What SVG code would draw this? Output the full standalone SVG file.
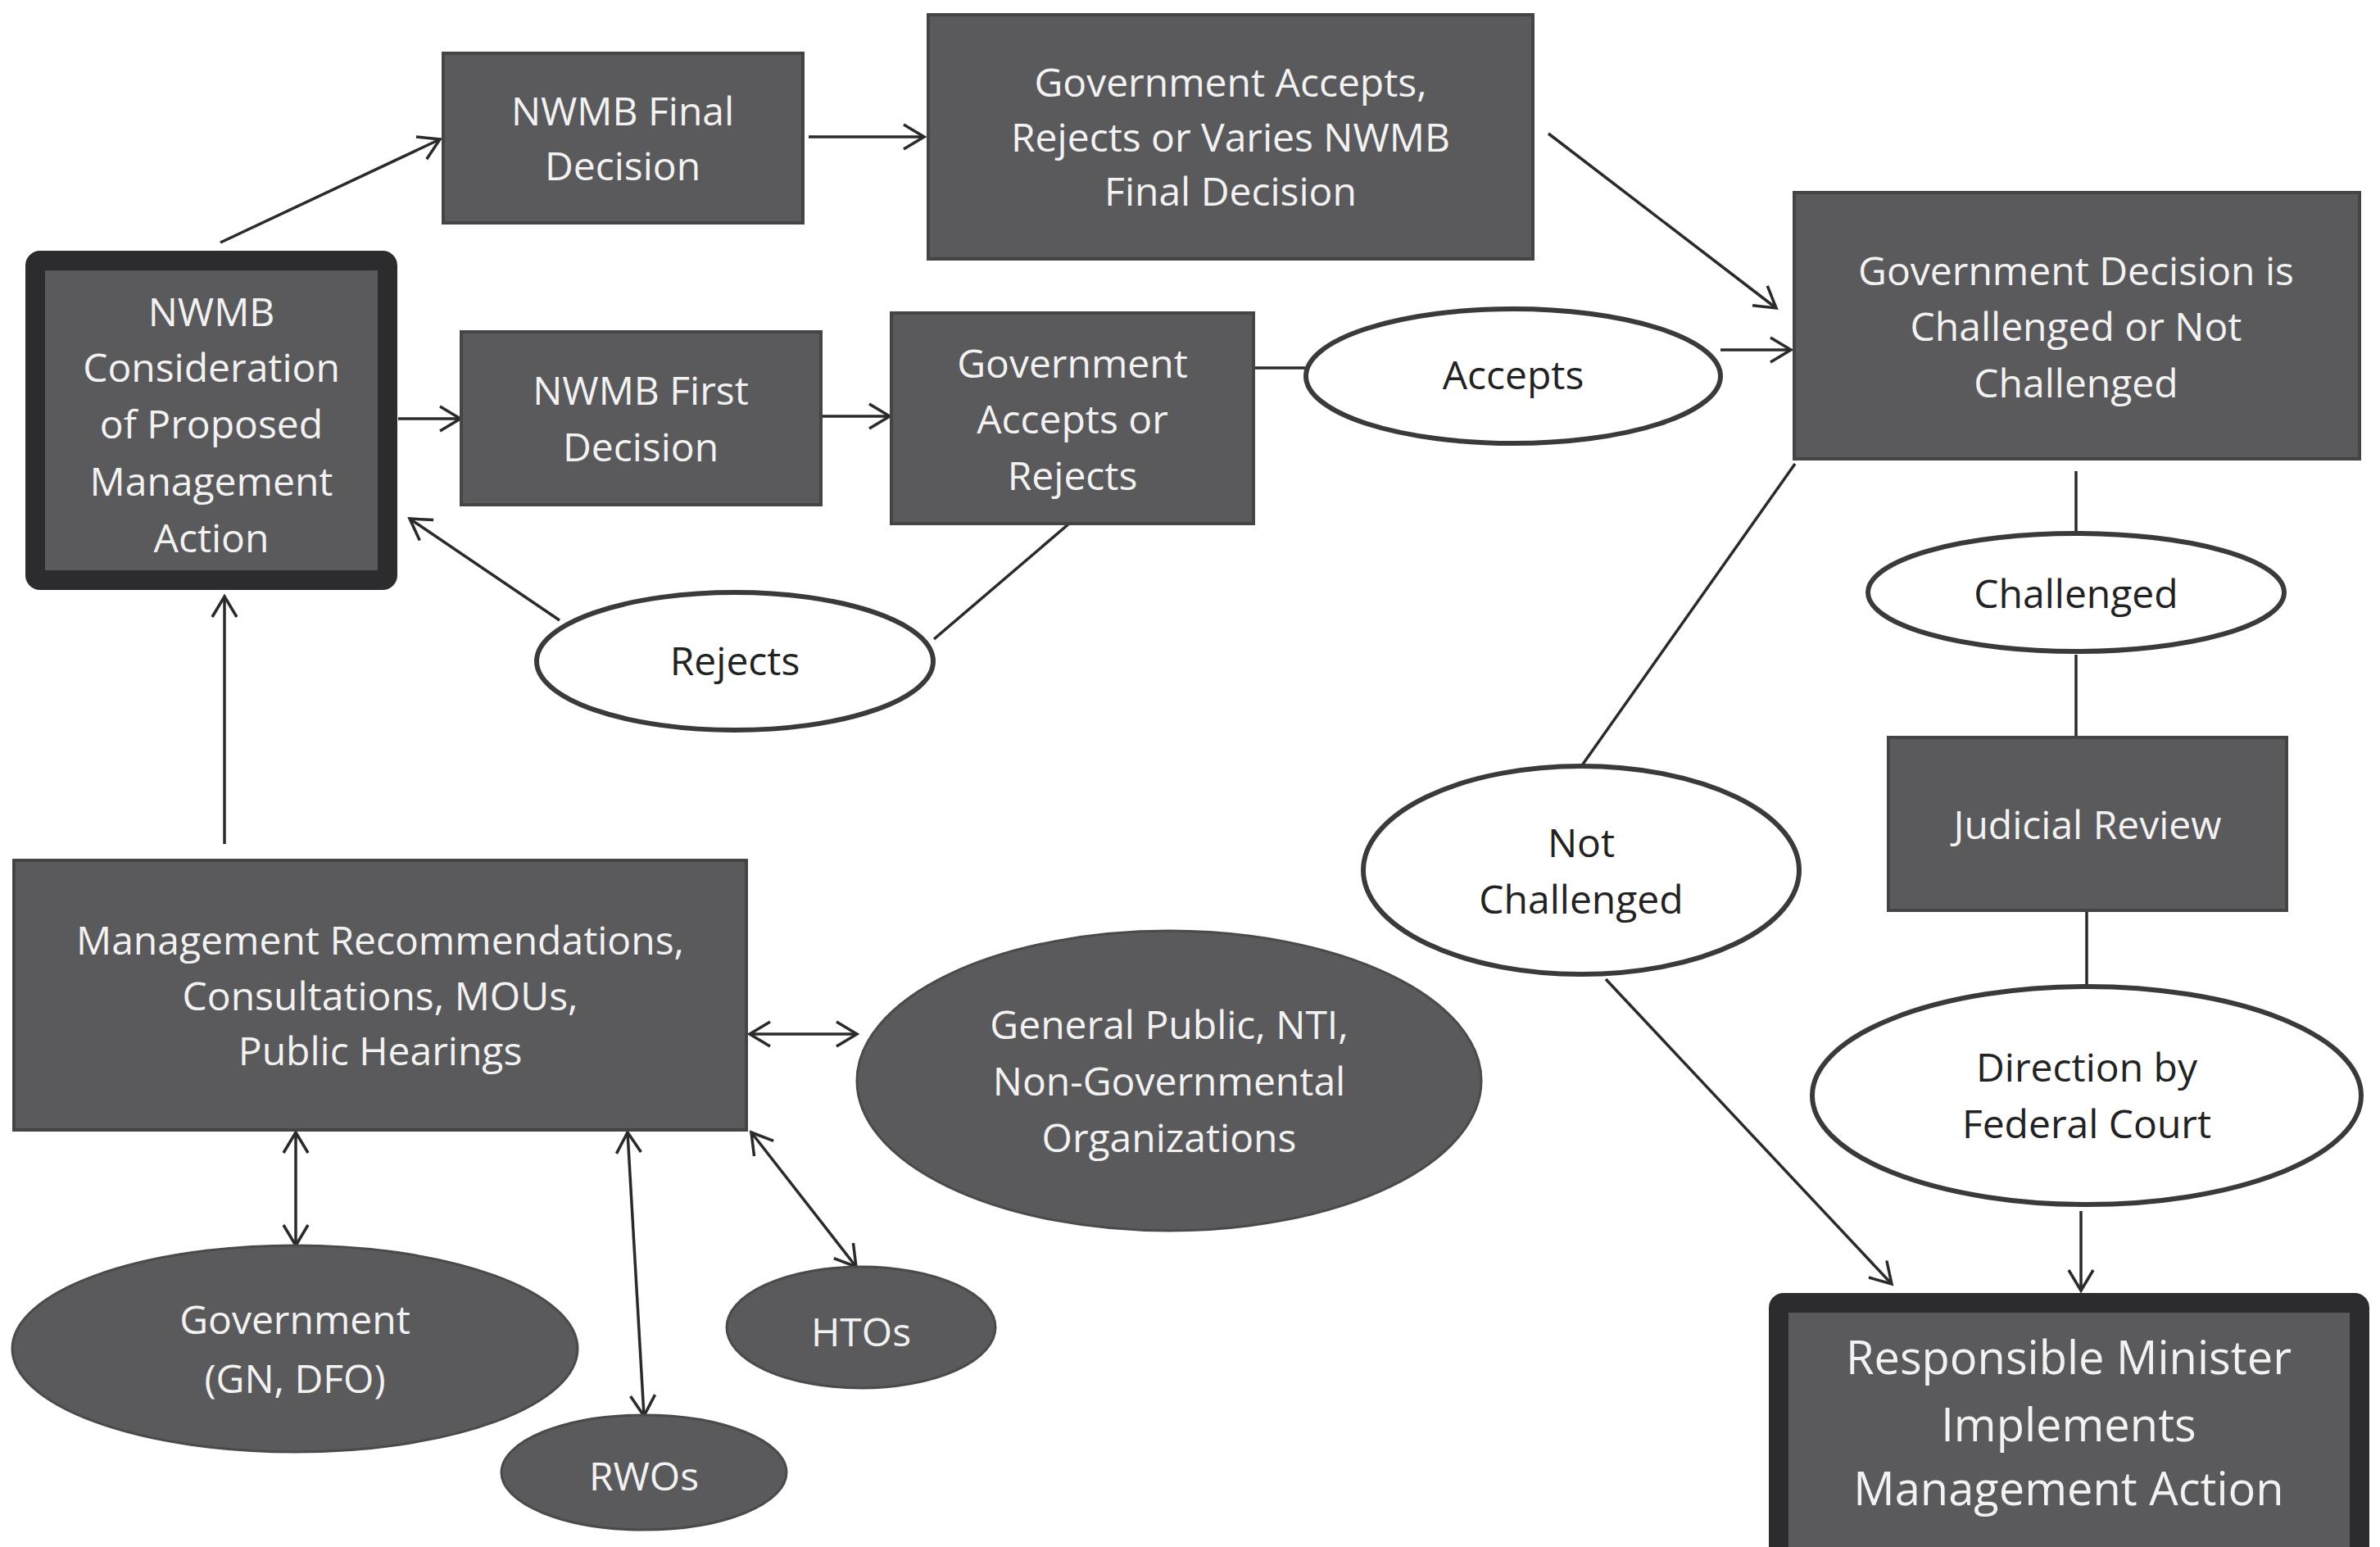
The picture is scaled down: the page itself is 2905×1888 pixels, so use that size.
<svg xmlns="http://www.w3.org/2000/svg" width="2905" height="1888" viewBox="0 0 2905 1888">
<style>
.box{fill:#5a5a5c;stroke:#444446;stroke-width:4}
.thick{fill:#5a5a5c;stroke:#2c2c2e;stroke-width:24}
.dell{fill:#5a5a5c;stroke:#4a4a4c;stroke-width:3}
.well{fill:#ffffff;stroke:#3a3a3a;stroke-width:6}
.lt{font-family:"Open Sans","Liberation Sans",sans-serif;font-size:48px;fill:#f2f2f2;text-anchor:middle}
.dt{font-family:"Open Sans","Liberation Sans",sans-serif;font-size:48px;fill:#222222;text-anchor:middle}
.big{font-size:56px}
.conn line{stroke:#2a2a2a;stroke-width:3.5;fill:none}
</style>
<defs>
<marker id="arr" markerUnits="userSpaceOnUse" markerWidth="34" markerHeight="40" refX="28" refY="18" orient="auto-start-reverse">
<path d="M3,3 L28,18 L3,33" fill="none" stroke="#2a2a2a" stroke-width="3.5"/>
</marker>
</defs>
<rect width="2905" height="1888" fill="#ffffff"/>

<g id="connectors" class="conn">
<line x1="269" y1="296" x2="537" y2="170" marker-end="url(#arr)"/>
<line x1="987" y1="167" x2="1128" y2="167" marker-end="url(#arr)"/>
<line x1="1890" y1="163" x2="2168" y2="376" marker-end="url(#arr)"/>
<line x1="486" y1="511" x2="562" y2="511" marker-end="url(#arr)"/>
<line x1="1004" y1="508" x2="1086" y2="508" marker-end="url(#arr)"/>
<line x1="1530" y1="449" x2="1593" y2="449"/>
<line x1="2100" y1="427" x2="2186" y2="427" marker-end="url(#arr)"/>
<line x1="1305" y1="639" x2="1140" y2="780"/>
<line x1="683" y1="757" x2="500" y2="633" marker-end="url(#arr)"/>
<line x1="274" y1="1030" x2="274" y2="728" marker-end="url(#arr)"/>
<line x1="2534" y1="575" x2="2534" y2="650"/>
<line x1="2534" y1="799" x2="2534" y2="900"/>
<line x1="2547" y1="1112" x2="2547" y2="1204"/>
<line x1="2540" y1="1478" x2="2540" y2="1575" marker-end="url(#arr)"/>
<line x1="2191" y1="566" x2="1931" y2="934"/>
<line x1="1960" y1="1195" x2="2309" y2="1567" marker-end="url(#arr)"/>
<line x1="915" y1="1262" x2="1046" y2="1262" marker-start="url(#arr)" marker-end="url(#arr)"/>
<line x1="361" y1="1382" x2="361" y2="1520" marker-start="url(#arr)" marker-end="url(#arr)"/>
<line x1="766" y1="1382" x2="786" y2="1728" marker-start="url(#arr)" marker-end="url(#arr)"/>
<line x1="917" y1="1382" x2="1045" y2="1546" marker-start="url(#arr)" marker-end="url(#arr)"/>
</g>

<g id="nwmb-final">
<rect class="box" x="541" y="65" width="439" height="207"/>
<text class="lt" x="760" y="153">NWMB Final</text>
<text class="lt" x="760" y="220">Decision</text>
</g>

<g id="gov-varies">
<rect class="box" x="1133" y="18" width="738" height="298"/>
<text class="lt" x="1502" y="118">Government Accepts,</text>
<text class="lt" x="1502" y="185">Rejects or Varies NWMB</text>
<text class="lt" x="1502" y="251">Final Decision</text>
</g>

<g id="nwmb-consideration">
<rect class="thick" x="43" y="318" width="430" height="390" rx="6"/>
<text class="lt" x="258" y="398">NWMB</text>
<text class="lt" x="258" y="466">Consideration</text>
<text class="lt" x="258" y="535">of Proposed</text>
<text class="lt" x="258" y="605">Management</text>
<text class="lt" x="258" y="674">Action</text>
</g>

<g id="nwmb-first">
<rect class="box" x="563" y="405" width="439" height="211"/>
<text class="lt" x="782" y="494">NWMB First</text>
<text class="lt" x="782" y="563">Decision</text>
</g>

<g id="gov-accepts-rejects">
<rect class="box" x="1088" y="382" width="442" height="257"/>
<text class="lt" x="1309" y="461">Government</text>
<text class="lt" x="1309" y="529">Accepts or</text>
<text class="lt" x="1309" y="598">Rejects</text>
</g>

<g id="accepts">
<ellipse class="well" cx="1847" cy="459" rx="253" ry="82"/>
<text class="dt" x="1847" y="475">Accepts</text>
</g>

<g id="rejects">
<ellipse class="well" cx="897" cy="807" rx="242" ry="84"/>
<text class="dt" x="897" y="824">Rejects</text>
</g>

<g id="gov-decision">
<rect class="box" x="2190" y="235" width="690" height="325"/>
<text class="lt" x="2534" y="348">Government Decision is</text>
<text class="lt" x="2534" y="416">Challenged or Not</text>
<text class="lt" x="2534" y="485">Challenged</text>
</g>

<g id="challenged">
<ellipse class="well" cx="2534" cy="723" rx="254" ry="72"/>
<text class="dt" x="2534" y="742">Challenged</text>
</g>

<g id="not-challenged">
<ellipse class="well" cx="1930" cy="1062" rx="266" ry="127"/>
<text class="dt" x="1930" y="1046">Not</text>
<text class="dt" x="1930" y="1115">Challenged</text>
</g>

<g id="judicial-review">
<rect class="box" x="2305" y="900" width="486" height="211"/>
<text class="lt" x="2548" y="1024">Judicial Review</text>
</g>

<g id="direction">
<ellipse class="well" cx="2547" cy="1337" rx="335" ry="133"/>
<text class="dt" x="2547" y="1320">Direction by</text>
<text class="dt" x="2547" y="1389">Federal Court</text>
</g>

<g id="responsible-minister">
<rect class="thick" x="2171" y="1590" width="709" height="310" rx="6"/>
<text class="lt big" x="2525" y="1677">Responsible Minister</text>
<text class="lt big" x="2525" y="1759">Implements</text>
<text class="lt big" x="2525" y="1837">Management Action</text>
</g>

<g id="management-recs">
<rect class="box" x="17" y="1050" width="894" height="329"/>
<text class="lt" x="464" y="1165">Management Recommendations,</text>
<text class="lt" x="464" y="1233">Consultations, MOUs,</text>
<text class="lt" x="464" y="1300">Public Hearings</text>
</g>

<g id="general-public">
<ellipse class="dell" cx="1427" cy="1319" rx="381" ry="183"/>
<text class="lt" x="1427" y="1268">General Public, NTI,</text>
<text class="lt" x="1427" y="1337">Non-Governmental</text>
<text class="lt" x="1427" y="1406">Organizations</text>
</g>

<g id="government">
<ellipse class="dell" cx="360" cy="1646" rx="345" ry="126"/>
<text class="lt" x="360" y="1628">Government</text>
<text class="lt" x="360" y="1700">(GN, DFO)</text>
</g>

<g id="htos">
<ellipse class="dell" cx="1051" cy="1620" rx="164" ry="74"/>
<text class="lt" x="1051" y="1643">HTOs</text>
</g>

<g id="rwos">
<ellipse class="dell" cx="786" cy="1797" rx="174" ry="70"/>
<text class="lt" x="786" y="1819">RWOs</text>
</g>
</svg>
